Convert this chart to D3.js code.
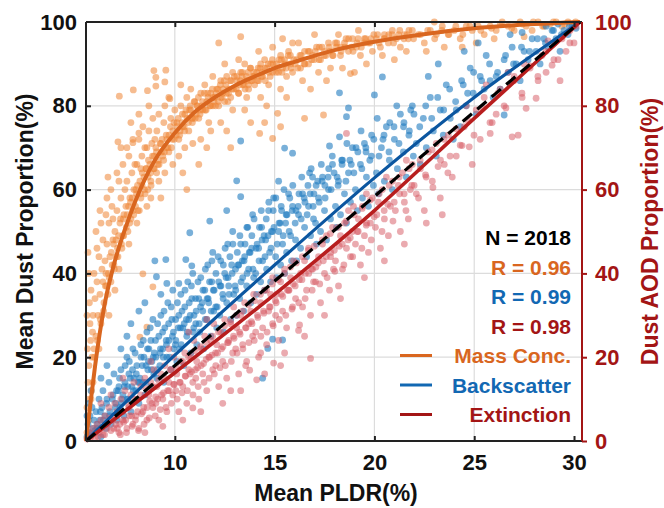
<!DOCTYPE html>
<html>
<head>
<meta charset="utf-8">
<script src="https://cdn.jsdelivr.net/npm/d3@7.9.0/dist/d3.min.js"></script>
<style>
  html, body { margin: 0; padding: 0; background: #fff; }
  svg { display: block; font-family: "Liberation Sans", Arial, sans-serif; font-weight: bold; }
</style>
</head>
<body>
<svg id="chart" width="664" height="508"></svg>
<script>
// x ticks / y ticks
const xTicks = [10, 15, 20, 25, 30];
const yTicks = [0, 20, 40, 60, 80, 100];

// fitted curves [PLDR, proportion]
const massFit = [[5.55,0],[5.8,10],[6.0,17.7],[6.5,33],[7,43],[7.5,50.5],[8,57],[8.5,62.5],[9,67],[10,73.5],[11,78.5],[12,82],[13,84.8],[14,87],[15,89],[16,90.5],[18,93.3],[20,95.3],[22,96.8],[25,98.5],[28,99.5],[30.3,100]];
const backFit = [[5.55,0],[10,20.5],[15,42],[20,62.8],[25,82],[30.3,100]];
const extFit = [[5.55,0],[10,16.3],[15,35],[20,55],[25,77],[30.3,100]];
const oneToOne = [[5.55,0],[30.3,100]];

// scatter, Mass Conc. (spread points)
const massPts = [[5.6,2],[5.6,8],[5.65,14],[5.62,22],[5.7,5],[5.7,18],[5.75,28],[5.8,10],[5.8,36],[5.85,20],[5.9,30],[5.9,14],[5.95,40],[5.6,30],[5.68,40],[5.72,33],[5.78,24],[5.88,26],[5.95,22],[6.0,34],[5.65,45],[5.7,10],
[6.05,25],[6.1,38],[6.15,30],[6.2,44],[6.25,35],[6.3,28],[6.35,41],[6.4,48],[6.45,33],[6.1,46],[6.2,22],[6.3,52],[6.4,38],[6.5,43],[6.05,50],[6.25,55],
[6.55,40],[6.6,47],[6.65,35],[6.7,52],[6.75,44],[6.8,38],[6.85,56],[6.9,48],[6.95,42],[6.6,58],[6.7,30],[6.8,60],[6.9,53],[7.0,50],[6.55,54],[7.0,36],[6.65,63],
[7.05,48],[7.1,55],[7.15,44],[7.2,62],[7.25,52],[7.3,58],[7.35,46],[7.4,66],[7.45,54],[7.1,64],[7.2,41],[7.3,70],[7.4,49],[7.5,60],[7.15,71.4],[7.22,82.3],
[7.55,56],[7.6,62],[7.65,50],[7.7,68],[7.75,58],[7.8,53],[7.85,64],[7.9,72],[7.95,60],[7.6,70],[7.7,47],[7.8,76],[7.9,55],[8.0,66],[7.92,83.8],[7.9,71.2],
[8.05,60],[8.1,66],[8.15,55],[8.2,72],[8.25,62],[8.3,58],[8.35,68],[8.4,75],[8.45,63],[8.1,52],[8.2,78],[8.3,65],[8.4,39.9],[8.25,24.8],[8.5,70],[8.63,83.6],[8.2,73.5],
[8.55,65],[8.6,70],[8.65,60],[8.7,74],[8.75,66],[8.8,62],[8.85,71],[8.9,77],[8.95,68],[8.6,56],[8.7,80],[8.8,58],[8.9,36.8],[8.6,27.2],[9.0,72],[8.95,88.4],
[9.05,70],[9.1,74],[9.15,66],[9.2,78],[9.3,71],[9.4,68],[9.45,76],[9.5,80],[9.6,72],[9.7,69],[9.8,77],[9.9,74],[9.2,62],[9.5,64],[9.7,82],[9.9,66],[9.3,58],[10.0,79],[9.55,88.5],[9.05,86.8],[9.5,85.7],[9.05,84.7],[9.75,81.7],
[10.1,76],[10.2,72],[10.3,80],[10.4,75],[10.5,78],[10.6,82],[10.7,74],[10.8,79],[10.9,77],[10.2,68],[10.5,70],[10.8,84],[10.4,64],[10.9,71],[11.0,81],[10.3,85],[10.6,60],
[11.1,80],[11.2,77],[11.3,83],[11.4,79],[11.5,85],[11.6,81],[11.7,76],[11.8,83],[11.9,80],[11.3,72],[11.6,70],[11.9,87],[11.2,66],[11.8,74],[12.0,82],
[12.1,84],[12.2,80],[12.3,86],[12.4,83],[12.5,81],[12.6,87],[12.7,84],[12.8,82],[12.9,88],[12.3,76],[12.6,74],[12.9,79],[12.5,90],[12.2,95],[12.8,70],
[13.1,86],[13.2,83],[13.3,88],[13.4,85],[13.5,90],[13.6,86],[13.7,84],[13.8,89],[13.9,87],[13.3,96.5],[13.5,79],[13.8,76],[13.2,91],[14.0,85],[13.6,82],
[14.1,88],[14.2,86],[14.3,90],[14.4,87],[14.5,91],[14.6,89],[14.7,85],[14.8,90],[14.9,88],[14.3,82],[14.6,80],[14.9,94],[14.2,93],[14.5,76],[14.25,73.4],[14.9,72.2],
[15.1,90],[15.2,88],[15.3,92],[15.4,89],[15.5,91],[15.6,87],[15.7,93],[15.8,90],[15.9,88],[15.3,84],[15.6,82],[15.9,95],[15.4,96],[15.3,75],[15.15,78.2],
[16.1,91],[16.3,89],[16.5,93],[16.7,90],[16.9,92],[17.1,94],[17.3,91],[17.5,93],[17.7,95],[17.9,92],[16.4,86],[16.8,84],[17.2,88],[17.6,86],[16.2,95],[17.0,97],[17.8,89],[16.5,77],[17.45,77.8],
[18.1,94],[18.3,92],[18.5,95],[18.7,93],[18.9,96],[19.1,94],[19.3,92],[19.5,96],[19.7,95],[19.9,93],[18.4,89],[19.0,88],[19.6,90],[18.2,97],[19.2,98],[18.8,87.7],
[20.1,96],[20.3,94],[20.5,97],[20.7,95],[20.9,98],[21.1,96],[21.3,94],[21.5,97],[21.7,96],[21.9,98],[20.4,92],[21.0,91],[21.6,93],
[22.2,97],[22.5,95],[22.8,98],[23.1,97],[23.4,99],[23.7,97],[24.0,98],[24.3,96],[24.6,99],[24.9,98],[22.6,93],[23.5,94],[24.4,94],[23.0,100],
[25.2,99],[25.5,97],[25.8,99],[26.1,98],[26.4,100],[26.7,99],[27.0,98],[27.3,100],[27.6,99],[27.9,98],[28.2,100],[28.5,99],[28.8,99.5],[29.1,100],[29.4,99],[29.7,100],[30.0,99.5],[26.0,96],[27.5,96.5],[25.1,95]];

// scatter, Mass Conc. (dense core near the fit)
const massCore = [[5.83,12],[5.97,20],[6.12,24],[6.27,29],[6.43,31],[6.58,37],[6.71,39],[6.86,42],[6.93,47],[7.07,44],[7.18,49],[7.33,47],[7.42,53],[7.57,51],[7.68,56],[7.74,52],[7.87,58],[8.03,56],[8.13,61],[8.28,59],[8.37,64],[8.48,60],[8.57,65],[8.68,67],[8.79,64],[8.88,68],[8.97,65],[9.08,69],[9.17,67],[9.27,71],[9.36,72],[9.48,69],[9.57,73],[9.66,70],[9.78,75],[9.87,72],[9.96,76],
[10.07,73],[10.17,77],[10.26,74],[10.38,78],[10.47,75],[10.56,79],[10.68,76],[10.77,80],[10.86,77],[10.97,81],[11.07,78],[11.18,82],[11.27,79],[11.36,80],[11.48,83],[11.57,79],[11.67,82],[11.76,80],[11.88,84],[11.97,81],
[12.08,83],[12.18,81],[12.28,85],[12.37,82],[12.47,86],[12.58,83],[12.66,81],[12.77,86],[12.88,84],[12.98,87],[13.08,84],[13.19,83],[13.28,86],[13.38,88],[13.47,85],[13.58,87],[13.69,85],[13.78,89],[13.88,86],[13.97,88],
[14.13,86],[14.27,89],[14.38,88],[14.53,86],[14.67,90],[14.78,87],[14.92,90],[15.07,88],[15.23,91],[15.37,88],[15.52,90],[15.68,92],[15.83,89],[15.96,91],[16.16,89],[16.33,92],[16.52,90],[16.68,93],[16.86,91],[17.03,93],[17.22,91],[17.38,94],[17.57,92],[17.74,94],[17.93,92],
[18.12,95],[18.33,93],[18.52,94],[18.71,96],[18.93,93],[19.13,95],[19.34,94],[19.56,96],[19.78,95],[19.97,97],[20.23,95],[20.47,96],[20.72,97],[20.96,95],[21.21,97],[21.48,96],[21.73,98],[21.96,96],
[22.31,97],[22.67,98],[23.02,96],[23.38,98],[23.73,97],[24.08,99],[24.43,97],[24.78,99],[25.33,98],[25.87,98.5],[26.31,99.5],[26.88,98.5],[27.42,99.5],[27.96,100],[28.43,99],[28.97,100],[29.53,99.5],[30.08,100]];

// scatter, Mass Conc. (more of the band)
const massFill = [[6.36,30],[6.52,37],[6.67,40],[6.82,45],[6.97,41],[7.13,46],[7.28,53],[7.44,49],[7.61,54],[7.78,57],[7.94,54],[8.08,59],[8.22,55],[8.36,61],[8.51,59],[8.66,63],[8.81,61],[8.93,65],[9.09,64],[9.21,66],[9.33,69],[9.44,67],[9.58,70],[9.71,73],[9.83,70],[9.97,72],
[10.11,75],[10.24,73],[10.36,76],[10.49,74],[10.62,77],[10.74,79],[10.88,76],[11.02,77],[11.13,80],[11.26,78],[11.39,81],[11.52,79],[11.64,83],[11.79,80],[11.91,82],[12.04,80],[12.16,84],[12.29,82],[12.42,84],[12.56,85],[12.69,83],[12.83,86],[12.96,84],
[13.11,87],[13.24,85],[13.37,87],[13.52,84],[13.66,88],[13.81,86],[13.96,87],[14.17,89],[14.34,87],[14.51,89],[14.72,88],[14.89,91],[15.12,89],[15.34,91],[15.58,89],[15.79,92],[16.03,90],[16.27,92],[16.48,90],[16.74,93],[16.97,91],
[17.24,94],[17.49,92],[17.76,93],[18.04,95],[18.31,94],[18.58,96],[18.86,94],[19.18,96],[19.47,95],[19.82,96],[20.16,97],[20.51,96],[20.88,97],[21.27,98],[21.64,97]];

// scatter, Backscatter (spread points)
const backPts = [[5.6,1],[5.65,4],[5.7,2],[5.75,6],[5.8,1.5],[5.85,8],[5.9,3],[5.95,5],[5.7,9],[5.6,6],[5.8,12],[6.0,2.5],
[6.05,7],[6.1,3],[6.2,10],[6.25,5],[6.3,1],[6.35,8],[6.4,12],[6.5,6],[6.55,3],[6.6,10],[6.7,14],[6.75,7],[6.8,4],[6.9,11],[6.95,16],[6.3,15],[6.6,18],
[7.05,9],[7.1,5],[7.2,13],[7.25,8],[7.3,17],[7.4,11],[7.45,6],[7.5,14],[7.6,20],[7.65,10],[7.7,16],[7.8,7],[7.85,13],[7.9,22],[7.95,15],[7.3,22],[7.6,25],[7.8,28],
[8.05,12],[8.1,18],[8.2,9],[8.25,15],[8.3,23],[8.4,14],[8.45,20],[8.5,11],[8.6,26],[8.65,17],[8.7,22],[8.8,13],[8.85,19],[8.9,29],[8.95,16],[8.2,31],[8.5,33],[8.8,24],[9.0,43],[9.08,39.2],
[9.05,20],[9.1,15],[9.2,25],[9.25,18],[9.3,30],[9.4,22],[9.45,14],[9.5,27],[9.6,20],[9.65,33],[9.7,24],[9.8,17],[9.85,29],[9.9,36],[9.95,22],[9.55,43.3],[9.6,37.6],[9.3,35],
[10.05,24],[10.1,19],[10.2,30],[10.25,22],[10.3,35],[10.4,27],[10.45,18],[10.5,32],[10.6,25],[10.65,38],[10.7,29],[10.8,21],[10.85,34],[10.9,40],[10.95,27],[10.2,37.6],[10.55,43.3],[10.85,41.8],[10.75,49.7],
[11.05,28],[11.1,23],[11.2,34],[11.25,26],[11.3,39],[11.4,31],[11.45,22],[11.5,36],[11.6,29],[11.65,42],[11.7,33],[11.8,25],[11.85,38],[11.9,45],[11.95,31],[11.75,52.5],
[12.05,32],[12.1,27],[12.2,38],[12.25,30],[12.3,43],[12.4,35],[12.45,26],[12.5,40],[12.6,33],[12.65,47],[12.7,37],[12.8,29],[12.85,42],[12.9,50],[12.95,35],[12.6,55],
[13.05,36],[13.1,30],[13.2,42],[13.25,34],[13.3,47],[13.4,39],[13.45,31],[13.5,44],[13.6,37],[13.65,51],[13.7,41],[13.8,33],[13.85,46],[13.9,54],[13.95,39],[13.1,62.1],[13.3,58.3],[13.3,71.6],
[14.05,40],[14.1,35],[14.2,46],[14.3,38],[14.35,51],[14.4,43],[14.5,36],[14.55,48],[14.6,41],[14.7,55],[14.75,45],[14.8,38],[14.9,50],[14.95,58],[14.4,15],[14.66,22.1],[14.9,24.3],
[15.05,44],[15.1,39],[15.2,50],[15.3,42],[15.35,55],[15.4,47],[15.5,40],[15.55,52],[15.6,45],[15.7,59],[15.8,49],[15.85,43],[15.9,56],[15.4,24.1],[15.5,69.9],[15.9,68.7],[15.2,62],
[16.05,48],[16.1,43],[16.2,54],[16.3,46],[16.4,59],[16.5,51],[16.6,44],[16.7,56],[16.8,49],[16.9,63],[16.95,53],[16.75,64],
[17.05,52],[17.1,47],[17.2,58],[17.3,50],[17.4,63],[17.5,55],[17.6,48],[17.7,60],[17.8,53],[17.9,66],[17.75,70.4],[18.25,72.6],
[18.05,56],[18.1,51],[18.2,62],[18.3,54],[18.4,67],[18.5,59],[18.6,52],[18.7,64],[18.8,57],[18.9,70],[18.6,77.4],[18.7,79.5],[18.25,83.1],
[19.05,60],[19.15,55],[19.3,66],[19.4,58],[19.5,71],[19.6,63],[19.7,56],[19.85,68],[19.95,61],[20.0,82.6],[20.4,86.9],
[20.1,64],[20.2,59],[20.35,70],[20.5,62],[20.6,75],[20.75,67],[20.9,60],[21.0,72],[21.15,65],[21.3,78],[21.45,69],[21.6,63],[21.75,74],[21.9,80],[21.95,68],
[22.1,71],[22.3,66],[22.45,77],[22.6,70],[22.8,82],[22.95,74],[23.1,68],[23.3,79],[23.45,73],[23.6,85],[23.8,77],[23.95,72],[22.7,87],[23.2,90],
[24.1,79],[24.3,75],[24.45,85],[24.6,80],[24.8,89],[24.95,83],[25.1,78],[25.3,87],[25.5,84],[25.6,92],[25.8,86],[25.95,82],[24.5,93],[25.2,95],[26.5,77.8],
[26.1,87],[26.3,84],[26.5,91],[26.7,88],[26.9,94],[27.1,90],[27.3,86],[27.5,93],[27.7,91],[27.9,96],[26.8,97],[27.4,97.5],
[28.1,93],[28.3,90],[28.5,96],[28.7,94],[28.9,98],[29.1,96],[29.3,93],[29.5,98],[29.7,97],[29.9,99],[30.1,98.5],[29.2,99.5],[28.6,99]];

// scatter, Backscatter (dense core near the fit)
const backCore = [[6.13,4],[6.27,7],[6.42,5],[6.58,9],[6.73,6],[6.87,10],[7.02,8],[7.17,12],[7.33,9],[7.47,13],[7.62,10],[7.77,15],[7.92,12],[8.07,16],[8.22,14],[8.37,18],[8.53,14],[8.68,19],[8.83,17],[8.97,21],[9.12,17],[9.28,22],[9.42,20],[9.57,24],[9.73,20],[9.88,25],
[10.03,23],[10.17,27],[10.32,23],[10.47,28],[10.62,26],[10.77,30],[10.92,26],[11.07,31],[11.22,28],[11.37,33],[11.52,29],[11.67,34],[11.82,31],[11.97,36],[12.12,32],[12.27,37],[12.42,34],[12.57,39],[12.72,35],[12.87,40],
[13.02,37],[13.17,42],[13.32,38],[13.47,43],[13.62,40],[13.77,45],[13.92,41],[14.07,46],[14.22,43],[14.37,48],[14.52,44],[14.67,49],[14.82,46],[14.97,51],[15.13,47],[15.28,52],[15.43,49],[15.58,54],[15.73,50],[15.88,55],
[16.03,52],[16.18,56],[16.33,53],[16.48,58],[16.63,54],[16.78,59],[16.93,56],[17.08,61],[17.23,57],[17.38,62],[17.53,58],[17.68,63],[17.83,60],[17.98,64],[18.18,61],[18.38,66],[18.57,62],[18.77,67],[18.97,64],[19.17,69],[19.37,65],[19.57,70],[19.77,67],[19.97,72],
[20.23,68],[20.48,73],[20.73,69],[20.98,75],[21.23,71],[21.48,76],[21.73,73],[21.98,78],[22.27,75],[22.57,80],[22.87,77],[23.17,82],[23.47,79],[23.77,84],[24.07,81],[24.37,86],[24.67,83],[24.97,88],[25.37,86],[25.77,90],[26.17,88],[26.57,92],[26.97,90],[27.37,94],[27.77,93],[28.17,96],[28.57,95],[28.97,98],[29.37,97],[29.77,99]];

// scatter, Backscatter (more of the band)
const backFill = [[7.08,12],[7.23,15],[7.36,10],[7.51,18],[7.64,13],[7.72,19],[7.88,17],[8.01,21],[8.16,14],[8.31,20],[8.42,24],[8.56,18],[8.63,22],[8.77,27],[8.92,20],[9.03,24],[9.14,28],[9.26,21],[9.39,26],[9.46,31],[9.58,23],[9.69,28],[9.82,32],[9.93,26],
[10.04,29],[10.13,33],[10.28,27],[10.36,31],[10.51,36],[10.58,29],[10.72,33],[10.83,37],[10.96,30],[11.04,34],[11.16,38],[11.29,32],[11.41,36],[11.53,41],[11.62,34],[11.74,38],[11.86,43],[11.93,36],
[12.06,40],[12.17,44],[12.31,37],[12.43,42],[12.52,46],[12.67,39],[12.76,44],[12.91,47],[13.04,41],[13.13,45],[13.26,49],[13.38,43],[13.52,47],[13.61,51],[13.73,45],[13.86,49],[13.97,53],
[14.12,47],[14.24,51],[14.33,55],[14.47,49],[14.58,53],[14.71,57],[14.84,50],[14.93,55],[15.06,58],[15.22,52],[15.33,56],[15.47,60],[15.62,54],[15.76,58],[15.91,61],[16.07,55],[16.22,59],[16.36,63],[16.52,57],[16.67,61],[16.83,65],[16.97,59],
[17.16,62],[17.34,66],[17.52,61],[17.71,65],[17.89,68],[18.13,63],[18.36,67],[18.62,71],[18.84,66],[19.08,70],[19.33,74],[19.58,69],[19.86,73],[20.14,77],[20.43,72],[20.77,76],[21.12,80],[21.46,75],[21.82,79]];

// scatter, Extinction (spread points)
const extPts = [[5.6,0.5],[5.7,2],[5.8,1],[5.9,3],[6.0,0.8],[6.1,4],[6.2,2],[6.3,5],[6.4,1.5],[6.5,6],[6.6,3],[6.7,8],[6.8,2.5],[6.9,5],[7.0,9],[6.3,9],[6.8,11],
[7.05,4],[7.1,7],[7.2,2],[7.3,10],[7.4,5],[7.5,12],[7.6,3],[7.7,8],[7.8,11],[7.9,4],[7.95,14],[7.4,15],
[8.05,6],[8.1,10],[8.2,3],[8.3,13],[8.4,7],[8.5,15],[8.6,5],[8.7,11],[8.8,14],[8.9,8],[8.95,17],[8.5,2],[8.8,19],
[9.05,9],[9.1,13],[9.2,5],[9.3,16],[9.4,10],[9.5,18],[9.6,7],[9.7,14],[9.8,17],[9.9,11],[9.95,20],[9.4,3.5],[9.7,22],
[10.05,12],[10.1,16],[10.2,7],[10.3,19],[10.4,13],[10.5,21],[10.6,9],[10.7,17],[10.8,20],[10.9,14],[10.95,24],[10.9,7.9],[10.4,5],[10.7,26],
[11.05,15],[11.1,19],[11.2,10],[11.3,22],[11.4,16],[11.5,25],[11.6,12],[11.7,20],[11.8,24],[11.9,17],[11.95,28],[11.3,7],[11.6,29],
[12.05,18],[12.1,23],[12.2,13],[12.3,26],[12.4,19],[12.5,29],[12.6,15],[12.7,24],[12.8,28],[12.9,21],[12.95,32],[12.4,9],[12.8,12],
[13.05,22],[13.1,27],[13.2,16],[13.3,30],[13.4,23],[13.5,33],[13.6,19],[13.7,28],[13.75,16.9],[13.8,31],[13.9,25],[13.95,35],[13.55,18],[13.3,12],
[14.05,26],[14.1,14.6],[14.2,20],[14.3,33],[14.3,21],[14.4,27],[14.5,36],[14.6,23],[14.7,31],[14.8,35],[14.9,28],[14.95,18.6],[14.5,16],[14.9,39],
[15.05,30],[15.1,35],[15.2,24],[15.3,38],[15.4,31],[15.5,41],[15.6,27],[15.7,36],[15.8,39],[15.9,32],[15.95,43],[15.5,21],[15.3,18],
[16.05,34],[16.2,26.4],[16.25,27.7],[16.3,40],[16.4,32],[16.5,43],[16.6,36],[16.7,46],[16.8,19.7],[16.8,30],[16.9,41],[16.95,38],[16.5,25],
[17.05,38],[17.2,44],[17.3,33],[17.4,47],[17.5,40],[17.6,49],[17.75,36],[17.8,44],[17.9,51],[17.95,41],[17.5,30],
[18.05,43],[18.2,37],[18.3,49],[18.4,41],[18.5,52],[18.6,46],[18.6,73.4],[18.7,55],[18.8,44],[18.9,50],[18.95,56],[18.3,34],
[19.05,47],[19.2,53],[19.3,42],[19.4,56],[19.5,49],[19.6,59],[19.7,45],[19.8,52],[19.9,58],[19.5,39],
[20.05,51],[20.2,57],[20.3,46],[20.4,60],[20.5,53],[20.6,63],[20.7,49],[20.8,56],[20.9,62],[20.5,43],
[21.05,55],[21.2,61],[21.3,50],[21.4,64],[21.5,57],[21.6,67],[21.7,53],[21.8,60],[21.9,66],[21.5,47],
[22.1,59],[22.3,65],[22.5,55],[22.7,69],[22.9,62],[23.1,71],[23.3,58],[23.5,66],[23.7,73],[23.9,63],[22.6,52],[23.4,54],
[24.1,68],[24.3,70.6],[24.5,75],[24.75,70.2],[24.9,66],[25.1,79],[25.3,72],[25.5,82],[25.8,73.4],[25.9,76],[25.6,85],[24.6,80],
[26.1,78],[26.3,84],[26.5,80],[26.9,72.6],[27.0,87],[27.2,73],[27.4,82],[27.6,79.4],[27.8,89],[28.1,81.8],[26.7,88],[27.5,90],
[28.2,86],[28.4,92],[28.6,88],[28.9,89.7],[29.0,95],[29.2,91],[29.4,96],[29.6,93],[29.8,98],[30.0,95],[30.1,99],[29.3,86],[28.7,95.5]];

// scatter, Extinction (dense core near the fit)
const extCore = [[6.16,1],[6.33,3],[6.48,1.5],[6.63,4],[6.78,5.5],[6.94,3],[7.09,6],[7.24,4],[7.39,7],[7.54,5],[7.69,8.5],[7.84,6],[7.99,10],[8.14,7],[8.29,11],[8.44,8],[8.59,12.5],[8.74,9.5],[8.89,13],[9.04,10.5],[9.19,14.5],[9.34,11],[9.49,15],[9.64,12],[9.79,17],[9.94,13.5],
[10.09,17.5],[10.24,14],[10.39,19],[10.54,15.5],[10.69,20],[10.84,16.5],[10.99,21.5],[11.14,17.5],[11.29,22.5],[11.44,18.5],[11.59,23.5],[11.74,20],[11.89,25],[12.04,21],[12.19,26],[12.34,22],[12.49,27.5],[12.64,23.5],[12.79,28.5],[12.94,25],
[13.09,30],[13.24,26],[13.39,31],[13.54,27],[13.69,32.5],[13.84,28.5],[13.99,33.5],[14.14,30],[14.29,35],[14.44,31],[14.59,36],[14.74,32],[14.89,37.5],[15.04,33.5],[15.19,38.5],[15.34,35],[15.49,40],[15.64,36],[15.79,41.5],[15.94,37.5],
[16.09,42.5],[16.24,38.5],[16.39,44],[16.54,40],[16.69,45.5],[16.84,41],[16.99,46.5],[17.19,42.5],[17.39,48],[17.59,44],[17.79,49.5],[17.99,45.5],[18.19,51],[18.39,47],[18.59,52.5],[18.79,48.5],[18.99,54],[19.19,50],[19.39,55.5],[19.59,51.5],[19.79,57.5],[19.99,53.5],
[20.24,59],[20.49,55],[20.74,61],[20.99,57],[21.24,63],[21.49,59],[21.74,65],[21.99,61],[22.29,67],[22.59,63],[22.89,69.5],[23.19,65.5],[23.49,72],[23.79,68],[24.09,74.5],[24.39,70.5],[24.69,76.5],[24.99,73],[25.39,79.5],[25.79,76],[26.19,83],[26.59,79.5],[26.99,86],[27.39,83],[27.79,89.5],[28.19,87],[28.59,93],[28.99,91],[29.39,96.5],[29.79,95]];

// scatter, Extinction (more of the band)
const extFill = [[7.12,3],[7.27,1.5],[7.44,4.5],[7.58,2],[7.73,6],[7.86,3.5],[8.03,5],[8.18,2.5],[8.33,6.5],[8.46,4],[8.61,8],[8.72,5.5],[8.86,9],[9.02,6],[9.14,10],[9.27,7.5],[9.43,11.5],[9.56,8],[9.71,12],[9.83,9],[9.97,13.5],
[10.12,10],[10.27,14],[10.36,11.5],[10.52,15.5],[10.63,12],[10.76,16],[10.91,11],[11.03,17],[11.17,13],[11.32,18],[11.46,14],[11.57,19.5],[11.72,15],[11.86,20.5],[11.98,16],
[12.14,21],[12.26,17.5],[12.41,22.5],[12.53,18],[12.68,23.5],[12.83,19],[12.97,24.5],[13.12,21],[13.27,25.5],[13.41,22],[13.57,27],[13.71,23.5],[13.87,28],[13.98,24],
[14.16,29.5],[14.31,25],[14.46,30.5],[14.62,26],[14.78,32],[14.93,27.5],[15.08,33],[15.24,29],[15.41,34.5],[15.56,30],[15.72,36],[15.87,31.5],[16.03,37],[16.21,33],[16.37,38.5],[16.53,34],[16.71,40],[16.88,36],
[17.07,41.5],[17.26,37.5],[17.44,43],[17.63,39],[17.81,45],[18.02,40.5],[18.24,46.5],[18.47,42],[18.68,48],[18.91,44],[19.14,50],[19.37,46],[19.61,52],[19.84,48],
[20.12,54],[20.38,50],[20.67,56.5],[20.93,52.5],[21.26,59],[21.58,55],[21.87,61],[22.21,58],[22.56,63.5],[22.93,60.5],[23.31,67],[23.68,64]];

const statLines = [
  { text: "N = 2018", color: "#000000" },
  { text: "R = 0.96", color: "#D9661F" },
  { text: "R = 0.99", color: "#1268B3" },
  { text: "R = 0.98", color: "#A31515" }
];
const legendItems = [
  { label: "Mass Conc.", color: "#D9661F" },
  { label: "Backscatter", color: "#1268B3" },
  { label: "Extinction", color: "#A31515" }
];

const svg = d3.select("#chart");
const margin = { left: 86, right: 82, top: 22, bottom: 67 };
const W = 664, H = 508;
const x = d3.scaleLinear().domain([5.55, 30.4]).range([margin.left, W - margin.right]);
const y = d3.scaleLinear().domain([0, 100]).range([H - margin.bottom, margin.top]);
const x0 = margin.left, x1 = W - margin.right, y0 = H - margin.bottom, y1 = margin.top;

// grid
svg.append("g").selectAll("line").data(xTicks.filter(d => d < 30)).join("line")
  .attr("x1", d => x(d)).attr("x2", d => x(d)).attr("y1", y1).attr("y2", y0)
  .attr("stroke", "#dcdcdc").attr("stroke-width", 1.2);
svg.append("g").selectAll("line").data(yTicks.filter(d => d > 0 && d < 100)).join("line")
  .attr("y1", d => y(d)).attr("y2", d => y(d)).attr("x1", x0).attr("x2", x1)
  .attr("stroke", "#dcdcdc").attr("stroke-width", 1.2);

// scatter
const dots = (pts, fill, op) => svg.append("g").selectAll("circle").data(pts).join("circle")
  .attr("cx", d => x(d[0])).attr("cy", d => y(d[1])).attr("r", 3.4)
  .attr("fill", fill).attr("fill-opacity", op);
dots(massPts.concat(massCore, massFill), "#EE8535", 0.55);
dots(backPts.concat(backCore, backFill), "#1F7BC0", 0.6);
dots(extPts.concat(extCore, extFill), "#D6565F", 0.5);

// fit lines
const line = d3.line().x(d => x(d[0])).y(d => y(d[1])).curve(d3.curveMonotoneX);
svg.append("path").attr("d", line(massFit)).attr("fill", "none").attr("stroke", "#D9661F").attr("stroke-width", 4);
svg.append("path").attr("d", line(backFit)).attr("fill", "none").attr("stroke", "#0B56A0").attr("stroke-width", 3.2);
svg.append("path").attr("d", line(extFit)).attr("fill", "none").attr("stroke", "#B81E1E").attr("stroke-width", 3.6);
svg.append("path").attr("d", line(oneToOne)).attr("fill", "none").attr("stroke", "#000").attr("stroke-width", 3.2)
  .attr("stroke-dasharray", "12,7");

// axes
const fs = "22px";
const axBottom = svg.append("g").attr("transform", `translate(0,${y0})`)
  .call(d3.axisBottom(x).tickValues(xTicks).tickSize(-5).tickPadding(13).tickFormat(d3.format("d")));
const axTop = svg.append("g").attr("transform", `translate(0,${y1})`)
  .call(d3.axisTop(x).tickValues(xTicks).tickSize(-5).tickFormat(""));
const axLeft = svg.append("g").attr("transform", `translate(${x0},0)`)
  .call(d3.axisLeft(y).tickValues(yTicks).tickSize(-5).tickPadding(9));
const axRight = svg.append("g").attr("transform", `translate(${x1},0)`)
  .call(d3.axisRight(y).tickValues(yTicks).tickSize(5).tickPadding(8));

[axBottom, axTop, axLeft].forEach(g => {
  g.select(".domain").attr("stroke", "#222").attr("stroke-width", 2);
  g.selectAll(".tick line").attr("stroke", "#222").attr("stroke-width", 2);
  g.selectAll("text").attr("font-size", fs).attr("font-weight", "bold").attr("fill", "#111")
    .attr("font-family", "Liberation Sans, Arial, sans-serif");
});
axLeft.select(".domain").attr("d", `M0,${y0}V${y1}`);
axBottom.select(".domain").attr("d", `M${x0},0H${x1}`);
axTop.select(".domain").attr("d", `M${x0},0H${x1}`);
axRight.select(".domain").attr("stroke", "#A31515").attr("stroke-width", 2).attr("d", `M0,${y0}V${y1}`);
axRight.selectAll(".tick line").attr("stroke", "#A31515").attr("stroke-width", 2);
axRight.selectAll("text").attr("font-size", fs).attr("font-weight", "bold").attr("fill", "#A31515")
  .attr("font-family", "Liberation Sans, Arial, sans-serif");
axLeft.selectAll(".tick").filter(d => d === 100 || d === 0).select("line").remove();
axRight.selectAll(".tick").filter(d => d === 100).select("line").remove();

// axis titles
svg.append("text").attr("x", (x0 + x1) / 2 + 2).attr("y", 501).attr("text-anchor", "middle")
  .attr("font-size", "23px").attr("fill", "#111").text("Mean PLDR(%)");
svg.append("text").attr("transform", `translate(33,${(y0 + y1) / 2}) rotate(-90)`).attr("text-anchor", "middle")
  .attr("font-size", "23px").attr("fill", "#111").text("Mean Dust Proportion(%)");
svg.append("text").attr("transform", `translate(658,${(y0 + y1) / 2}) rotate(-90)`).attr("text-anchor", "middle")
  .attr("font-size", "23px").attr("fill", "#A31515").text("Dust AOD Proportion(%)");

// annotations
const tx = 571;
statLines.forEach((s, i) => {
  svg.append("text").attr("x", tx).attr("y", 245 + i * 29.5).attr("text-anchor", "end")
    .attr("font-size", "21px").attr("fill", s.color).text(s.text);
});
legendItems.forEach((s, i) => {
  const yy = 363 + i * 29.5;
  svg.append("line").attr("x1", 400).attr("x2", 432).attr("y1", yy - 7.5).attr("y2", yy - 7.5)
    .attr("stroke", s.color).attr("stroke-width", 3);
  svg.append("text").attr("x", tx).attr("y", yy).attr("text-anchor", "end")
    .attr("font-size", "21px").attr("fill", s.color).text(s.label);
});
</script>
</body>
</html>
